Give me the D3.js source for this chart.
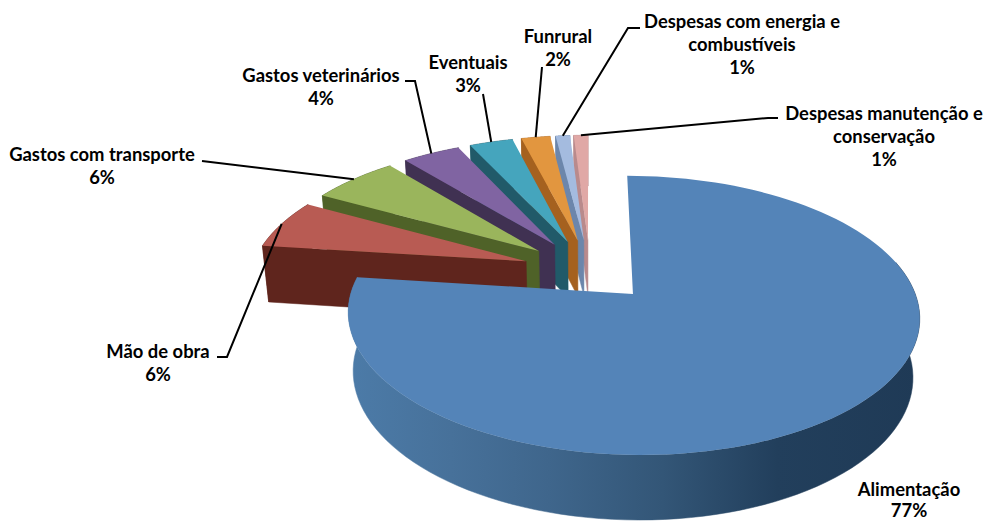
<!DOCTYPE html>
<html>
<head>
<meta charset="utf-8">
<script src="https://cdn.jsdelivr.net/npm/d3@7/dist/d3.min.js"></script>
<style>
  html, body { margin: 0; padding: 0; background: #fff; }
  text { font-family: Lato, "Open Sans", sans-serif; font-weight: 700; font-size: 18.4px; fill: #000; text-anchor: middle; }
</style>
</head>
<body>
<svg id="chart" width="984" height="521"></svg>
<script>
// Composição dos custos de produção, em percentagem
const categories = ["Alimentação", "Mão de obra", "Gastos com transporte", "Gastos veterinários",
  "Eventuais", "Funrural", "Despesas com energia e combustíveis", "Despesas manutenção e conservação"];
const shares = [77, 6, 6, 4, 3, 2, 1, 1];

const topColors = ["#5484b8", "#b85b53", "#9ab55c", "#8064a2", "#45a5bd", "#e2963f", "#a4bbdf", "#e0a8a6"];
const wallColors = ["#3c6288", "#5f251d", "#4f6228", "#403152", "#215a69", "#a5611f", "#6c86ab", "#b98a8c"];

// Rótulos: linhas de texto, posição e o cotovelo da linha de chamada
const labelLines = [
  ["Alimentação", "77%"], ["Mão de obra", "6%"], ["Gastos com transporte", "6%"], ["Gastos veterinários", "4%"],
  ["Eventuais", "3%"], ["Funrural", "2%"], ["Despesas com energia e", "combustíveis", "1%"],
  ["Despesas manutenção e", "conservação", "1%"]
];
const labelCentres = [[909, 496], [158, 358], [102, 161], [321, 82], [468, 69], [558, 43], [742, 28], [884, 120]];
const leaderStarts = [null, [[217, 357], [227, 357]], [[202, 161]], [[405, 81], [415, 81]],
  [[483, 94]], [[542, 67]], [[640, 28], [628, 28]], [[778, 118], [768, 118]]];

// Projeção em perspectiva do disco de raio 1 (u, v) à altura z
const proj = { x0: 590, y0: 271, b: 275, a: 129.3, h: 58.6, k: -0.15, m: 0.02 };
// Afastamento de cada fatia em relação ao centro do disco
const explode = [0.23, 0.247, 0.247, 0.247, 0.247, 0.247, 0.247, 0.247];

function project(u, v, z) {
  const w = 1 + proj.k * v + proj.m * z;
  return [proj.x0 + proj.b * u / w, proj.y0 + (proj.a * v + proj.h * z) / w];
}
const rim = (slice, angle, z) => {
  const mid = (slice.startAngle + slice.endAngle) / 2, e = explode[slice.index];
  return project(e * Math.sin(mid) + Math.sin(angle), -e * Math.cos(mid) - Math.cos(angle), z);
};
const apex = (slice, z) => {
  const mid = (slice.startAngle + slice.endAngle) / 2, e = explode[slice.index];
  return project(e * Math.sin(mid), -e * Math.cos(mid), z);
};
const arcSamples = s => d3.range(0, 121).map(i => s.startAngle + (s.endAngle - s.startAngle) * i / 120);

const svg = d3.select("#chart");
const line = d3.line();

const defs = svg.append("defs");
const shade = defs.append("linearGradient").attr("id", "sideShade")
  .attr("gradientUnits", "userSpaceOnUse").attr("x1", 348).attr("x2", 920).attr("y1", 0).attr("y2", 0);
[[0, "#4c7ba8"], [0.18, "#47719a"], [0.35, "#3f668c"], [0.55, "#335677"], [0.75, "#223f5c"], [1, "#1f3a56"]]
  .forEach(([o, c]) => shade.append("stop").attr("offset", o).attr("stop-color", c));

const slices = d3.pie().sort(null).value(d => d)(shares);

// Do fundo para a frente: as fatias menores primeiro, a maior por último
const order = [7, 6, 5, 4, 3, 2, 1, 0];
const pieGroup = svg.append("g");
order.forEach(i => {
  const s = slices[i];
  const g = pieGroup.append("g");
  const samples = arcSamples(s);
  const wallFill = i === 0 ? "url(#sideShade)" : wallColors[i];

  // Parede exterior (só a parte voltada para o observador na fatia maior)
  const wallSamples = i === 0 ? samples.filter(a => Math.cos(a) < 0.25) : samples;
  const outerWall = wallSamples.map(a => rim(s, a, 0)).concat(wallSamples.slice().reverse().map(a => rim(s, a, 1)));
  g.append("path").attr("d", line(outerWall) + "Z").attr("fill", wallFill).attr("stroke", wallFill).attr("stroke-width", 0.5);

  // Parede radial voltada para o observador
  if (i !== 0) {
    const side = [rim(s, s.startAngle, 0), apex(s, 0), apex(s, 1), rim(s, s.startAngle, 1)];
    g.append("path").attr("d", line(side) + "Z").attr("fill", wallFill).attr("stroke", wallFill).attr("stroke-width", 0.5);
  }

  // Face superior
  const face = [apex(s, 0)].concat(samples.map(a => rim(s, a, 0)));
  g.append("path").attr("d", line(face) + "Z").attr("fill", topColors[i]);
});

// Linhas de chamada, terminando no arco exterior de cada fatia
const leaders = svg.append("g").attr("fill", "none").attr("stroke", "#000").attr("stroke-width", 2);
slices.forEach((s, i) => {
  if (!leaderStarts[i]) return;
  const end = rim(s, (s.startAngle + s.endAngle) / 2, 0);
  leaders.append("path").attr("d", line(leaderStarts[i].concat([end])));
});

// Rótulos de categoria e percentagem
const rowStep = 23;
labelLines.forEach((rows, i) => {
  const t = svg.append("text").attr("x", labelCentres[i][0]).attr("y", labelCentres[i][1]);
  rows.forEach((row, j) => {
    t.append("tspan").attr("x", labelCentres[i][0]).attr("dy", j === 0 ? 0 : (i === 0 ? 21 : rowStep)).text(row);
  });
});
</script>
</body>
</html>
